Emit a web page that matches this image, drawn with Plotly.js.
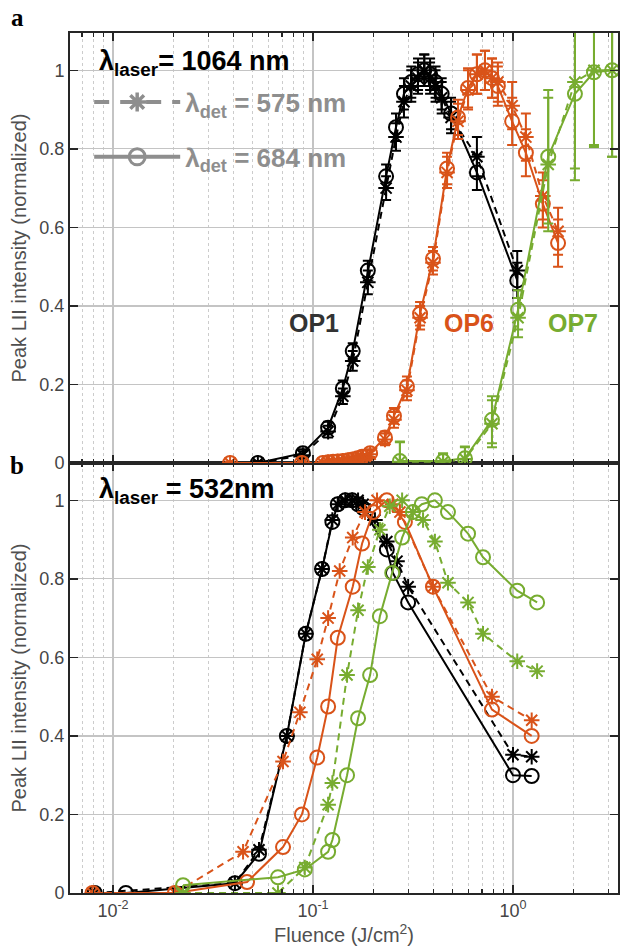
<!DOCTYPE html>
<html>
<head>
<meta charset="utf-8">
<script src="https://cdn.plot.ly/plotly-3.0.1.min.js"></script>
<style>html,body{margin:0;padding:0;background:#fff;}#chart{width:622px;height:950px;}</style>
</head>
<body>
<div id="chart"></div>
<script>
// ---------- Panel a (λlaser = 1064 nm) ----------
const aOP1_x      = [0.053, 0.089, 0.119, 0.141, 0.158, 0.188, 0.232, 0.26, 0.285, 0.31, 0.335, 0.36, 0.385, 0.41, 0.44, 0.49, 0.66, 1.05];
const aOP1_684    = [0, 0.025, 0.09, 0.19, 0.285, 0.49, 0.73, 0.855, 0.94, 0.97, 0.99, 1.0, 0.99, 0.97, 0.94, 0.89, 0.74, 0.465];
const aOP1_684err = [0.005, 0.01, 0.015, 0.02, 0.02, 0.025, 0.03, 0.035, 0.04, 0.04, 0.04, 0.04, 0.04, 0.04, 0.04, 0.04, 0.045, 0.045];
const aOP1_575    = [0, 0.02, 0.08, 0.17, 0.26, 0.46, 0.70, 0.83, 0.92, 0.96, 0.98, 1.0, 0.98, 0.96, 0.93, 0.88, 0.78, 0.49];
const aOP1_575err = [0.005, 0.01, 0.015, 0.02, 0.025, 0.03, 0.03, 0.035, 0.04, 0.04, 0.04, 0.04, 0.04, 0.04, 0.04, 0.04, 0.05, 0.05];

const aOP6_x      = [0.0385, 0.088, 0.112, 0.119, 0.126, 0.133, 0.141, 0.15, 0.158, 0.167, 0.176, 0.193, 0.229, 0.254, 0.295, 0.343, 0.398, 0.468, 0.531, 0.596, 0.66, 0.724, 0.785, 0.84, 0.99, 1.16, 1.41, 1.68];
const aOP6_684    = [0, 0, 0, 0.002, 0.003, 0.004, 0.005, 0.007, 0.009, 0.012, 0.016, 0.025, 0.065, 0.12, 0.195, 0.38, 0.52, 0.75, 0.88, 0.955, 0.99, 1.0, 0.98, 0.96, 0.87, 0.79, 0.66, 0.56];
const aOP6_684err = [0.003, 0.003, 0.003, 0.003, 0.003, 0.004, 0.005, 0.005, 0.006, 0.006, 0.007, 0.01, 0.015, 0.02, 0.025, 0.03, 0.03, 0.04, 0.045, 0.05, 0.05, 0.05, 0.05, 0.05, 0.06, 0.06, 0.06, 0.06];
const aOP6_575    = [0, 0, 0, 0.002, 0.003, 0.004, 0.005, 0.007, 0.009, 0.011, 0.015, 0.022, 0.06, 0.11, 0.185, 0.37, 0.51, 0.74, 0.87, 0.95, 0.99, 1.0, 0.98, 0.97, 0.91, 0.83, 0.68, 0.59];
const aOP6_575err = [0.003, 0.003, 0.003, 0.003, 0.003, 0.004, 0.005, 0.005, 0.006, 0.006, 0.007, 0.01, 0.015, 0.02, 0.025, 0.03, 0.03, 0.04, 0.045, 0.05, 0.05, 0.05, 0.05, 0.05, 0.06, 0.06, 0.06, 0.06];

const aOP7_x      = [0.272, 0.447, 0.575, 0.785, 1.06, 1.50, 2.04, 2.54, 3.13];
const aOP7_684    = [0.005, 0.005, 0.012, 0.11, 0.39, 0.78, 0.94, 0.995, 1.0];
const aOP7_684err = [0.05, 0.02, 0.03, 0.06, 0.05, 0.17, 0.22, 0.19, 0.22];
const aOP7_575    = [0.003, 0.003, 0.01, 0.10, 0.37, 0.76, 0.97, 1.0, 1.0];
const aOP7_575err = [0.05, 0.02, 0.03, 0.06, 0.05, 0.17, 0.22, 0.19, 0.22];

// ---------- Panel b (λlaser = 532 nm) ----------
const bOP1_x684 = [0.0081, 0.0116, 0.0407, 0.0537, 0.074, 0.092, 0.111, 0.125, 0.133, 0.145, 0.157, 0.168, 0.178, 0.234, 0.251, 0.299, 1.0, 1.24];
const bOP1_684  = [0, 0, 0.025, 0.10, 0.40, 0.66, 0.825, 0.945, 0.99, 1.0, 1.0, 0.99, 0.98, 0.875, 0.815, 0.74, 0.30, 0.298];
const bOP1_x575 = [0.0081, 0.0407, 0.0537, 0.074, 0.092, 0.111, 0.125, 0.133, 0.145, 0.157, 0.168, 0.178, 0.204, 0.234, 0.263, 0.299, 1.0, 1.24];
const bOP1_575  = [0, 0.025, 0.11, 0.40, 0.66, 0.825, 0.95, 0.99, 1.0, 1.0, 1.0, 0.99, 0.95, 0.895, 0.845, 0.78, 0.352, 0.347];

const bOP6_x684 = [0.0079, 0.0204, 0.0468, 0.0708, 0.088, 0.105, 0.119, 0.133, 0.158, 0.176, 0.20, 0.234, 0.288, 0.398, 0.785, 1.24];
const bOP6_684  = [0, 0, 0.028, 0.117, 0.20, 0.345, 0.475, 0.65, 0.78, 0.89, 0.97, 1.0, 0.945, 0.78, 0.467, 0.40];
const bOP6_x575 = [0.0079, 0.0204, 0.0447, 0.0708, 0.086, 0.105, 0.119, 0.136, 0.158, 0.182, 0.209, 0.25, 0.272, 0.398, 0.785, 1.24];
const bOP6_575  = [0, 0, 0.105, 0.335, 0.46, 0.595, 0.70, 0.82, 0.905, 0.97, 1.0, 0.99, 0.97, 0.78, 0.50, 0.44];

const bOP7_x684 = [0.0224, 0.0668, 0.091, 0.119, 0.125, 0.148, 0.168, 0.193, 0.216, 0.249, 0.279, 0.316, 0.35, 0.407, 0.473, 0.596, 0.708, 1.05, 1.32];
const bOP7_684  = [0.02, 0.04, 0.06, 0.105, 0.135, 0.30, 0.445, 0.555, 0.705, 0.815, 0.905, 0.97, 0.99, 1.0, 0.97, 0.915, 0.855, 0.77, 0.74];
const bOP7_x575 = [0.0224, 0.0668, 0.091, 0.119, 0.125, 0.148, 0.168, 0.188, 0.216, 0.242, 0.279, 0.316, 0.355, 0.407, 0.473, 0.596, 0.708, 1.05, 1.32];
const bOP7_575  = [0, 0, 0.065, 0.225, 0.28, 0.555, 0.72, 0.83, 0.925, 0.985, 1.0, 0.97, 0.95, 0.895, 0.79, 0.74, 0.66, 0.59, 0.565];

// ---------- Labels / ticks ----------
const xTickVals  = [0.01, 0.1, 1];
const xTickText  = ['10<sup>-2</sup>', '10<sup>-1</sup>', '10<sup>0</sup>'];
const xMinorVals = [0.006, 0.007, 0.008, 0.009, 0.02, 0.03, 0.04, 0.05, 0.06, 0.07, 0.08, 0.09, 0.2, 0.3, 0.4, 0.5, 0.6, 0.7, 0.8, 0.9, 2, 3];
const seriesNames = ['OP1', 'OP6', 'OP7'];
const legendNames = ['<b>λ<sub>det</sub> = 575 nm</b>', '<b>λ<sub>det</sub> = 684 nm</b>'];

const BLACK = '#000000', ORANGE = '#D95319', GREEN = '#77AC30', GREY = '#8e8e8e', AX = '#262626';
const FONT = 'Liberation Sans, Arial, Helvetica, sans-serif';

function circ(x, y, color, xa, ya, err) {
  const t = {x: x, y: y, xaxis: xa, yaxis: ya, type: 'scatter', mode: 'lines+markers', showlegend: false,
    line: {color: color, width: 2},
    marker: {symbol: 'circle-open', size: 14, color: color, line: {color: color, width: 2}}};
  if (err) t.error_y = {type: 'data', array: err, visible: true, color: color, thickness: 2, width: 5};
  return t;
}
function star(x, y, color, xa, ya, err) {
  const t = {x: x, y: y, xaxis: xa, yaxis: ya, type: 'scatter', mode: 'lines+markers', showlegend: false,
    line: {color: color, width: 2, dash: '7px,5px'},
    marker: {symbol: 'asterisk-open', size: 13, color: color, line: {color: color, width: 2}}};
  if (err) t.error_y = {type: 'data', array: err, visible: true, color: color, thickness: 2, width: 5};
  return t;
}

const traces = [
  star(aOP1_x, aOP1_575, BLACK, 'x2', 'y2', aOP1_575err),
  circ(aOP1_x, aOP1_684, BLACK, 'x2', 'y2', aOP1_684err),
  star(aOP6_x, aOP6_575, ORANGE, 'x2', 'y2', aOP6_575err),
  circ(aOP6_x, aOP6_684, ORANGE, 'x2', 'y2', aOP6_684err),
  star(aOP7_x, aOP7_575, GREEN, 'x2', 'y2', aOP7_575err),
  circ(aOP7_x, aOP7_684, GREEN, 'x2', 'y2', aOP7_684err),
  star(bOP1_x575, bOP1_575, BLACK, 'x', 'y'),
  circ(bOP1_x684, bOP1_684, BLACK, 'x', 'y'),
  star(bOP6_x575, bOP6_575, ORANGE, 'x', 'y'),
  circ(bOP6_x684, bOP6_684, ORANGE, 'x', 'y'),
  star(bOP7_x575, bOP7_575, GREEN, 'x', 'y'),
  circ(bOP7_x684, bOP7_684, GREEN, 'x', 'y'),
  // legend entries
  {x: [null], y: [null], xaxis: 'x2', yaxis: 'y2', type: 'scatter', mode: 'lines+markers', name: legendNames[0], legendgroup: 'g1',
    line: {color: GREY, width: 4, dash: '15px,11px'}, marker: {symbol: 'asterisk-open', size: 16, line: {color: GREY, width: 3.5}}},
  {x: [null], y: [null], xaxis: 'x2', yaxis: 'y2', type: 'scatter', mode: 'lines+markers', name: legendNames[1], legendgroup: 'g2',
    line: {color: GREY, width: 4}, marker: {symbol: 'circle-open', size: 18, color: GREY, line: {color: GREY, width: 3}}}
];

function xAxis(extra) {
  return Object.assign({
    type: 'log', range: [-2.215, 0.525], showgrid: true, gridcolor: '#c4c4c4', gridwidth: 1.3,
    tickmode: 'array', tickvals: xTickVals, ticktext: xTickText,
    ticks: 'inside', ticklen: 8, tickwidth: 1.5, tickcolor: AX,
    showline: true, linecolor: AX, linewidth: 2, mirror: 'ticks', zeroline: false,
    tickfont: {family: FONT, size: 18, color: '#454545'},
    minor: {tickmode: 'array', tickvals: xMinorVals, ticks: 'inside', ticklen: 4, tickwidth: 1.2, tickcolor: AX,
      showgrid: true, gridcolor: '#cccccc', gridwidth: 1, griddash: 'dot'}
  }, extra);
}
function yAxis(extra) {
  return Object.assign({
    range: [0, 1.095], tickmode: 'linear', tick0: 0, dtick: 0.2, showgrid: true, gridcolor: '#c4c4c4', gridwidth: 1.3,
    ticks: 'inside', ticklen: 8, tickwidth: 1.5, tickcolor: AX,
    showline: true, linecolor: AX, linewidth: 2, mirror: 'ticks', zeroline: false,
    tickfont: {family: FONT, size: 18, color: '#454545'},
    title: {text: 'Peak LII intensity (normalized)', font: {family: FONT, size: 20, color: '#505050'}, standoff: 7}
  }, extra);
}

const layout = {
  width: 622, height: 950,
  margin: {l: 70, r: 4, t: 33, b: 57},
  paper_bgcolor: '#fff', plot_bgcolor: '#fff',
  font: {family: FONT},
  xaxis: xAxis({anchor: 'y', domain: [0, 1],
    title: {text: 'Fluence (J/cm<sup>2</sup>)', font: {family: FONT, size: 20, color: '#505050'}, standoff: 7}}),
  yaxis: yAxis({anchor: 'x', domain: [0, 0.5]}),
  xaxis2: xAxis({anchor: 'y2', domain: [0, 1], showticklabels: false}),
  yaxis2: yAxis({anchor: 'x2', domain: [0.5, 1]}),
  showlegend: true,
  legend: {x: 0.035, y: 0.947, xanchor: 'left', yanchor: 'top', bgcolor: 'rgba(0,0,0,0)',
    font: {family: FONT, size: 26, color: GREY}, itemwidth: 86, tracegroupgap: 18, traceorder: 'grouped'},
  annotations: [
    {xref: 'paper', yref: 'paper', x: -0.096, y: 1.018, xanchor: 'center', yanchor: 'middle', text: '<b>a</b>', showarrow: false,
      font: {family: 'Liberation Serif, Times New Roman, serif', size: 25, color: '#000'}},
    {xref: 'paper', yref: 'paper', x: -0.096, y: 0.497, xanchor: 'center', yanchor: 'middle', text: '<b>b</b>', showarrow: false,
      font: {family: 'Liberation Serif, Times New Roman, serif', size: 25, color: '#000'}},
    {xref: 'paper', yref: 'paper', x: 0.05, y: 0.965, xanchor: 'left', yanchor: 'middle', showarrow: false,
      text: '<b>λ<sub>laser</sub>= 1064 nm</b>', font: {family: FONT, size: 27, color: '#000'}},
    {xref: 'paper', yref: 'paper', x: 0.05, y: 0.468, xanchor: 'left', yanchor: 'middle', showarrow: false,
      text: '<b>λ<sub>laser</sub> = 532nm</b>', font: {family: FONT, size: 27, color: '#000'}},
    {xref: 'paper', yref: 'paper', x: 0.445, y: 0.663, xanchor: 'center', yanchor: 'middle', showarrow: false, text: '<b>' + seriesNames[0] + '</b>',
      font: {family: FONT, size: 25, color: '#333'}},
    {xref: 'paper', yref: 'paper', x: 0.728, y: 0.663, xanchor: 'center', yanchor: 'middle', showarrow: false, text: '<b>' + seriesNames[1] + '</b>',
      font: {family: FONT, size: 25, color: ORANGE}},
    {xref: 'paper', yref: 'paper', x: 0.918, y: 0.663, xanchor: 'center', yanchor: 'middle', showarrow: false, text: '<b>' + seriesNames[2] + '</b>',
      font: {family: FONT, size: 25, color: GREEN}}
  ]
};

Plotly.newPlot('chart', traces, layout, {displayModeBar: false, staticPlot: true});
</script>
</body>
</html>
